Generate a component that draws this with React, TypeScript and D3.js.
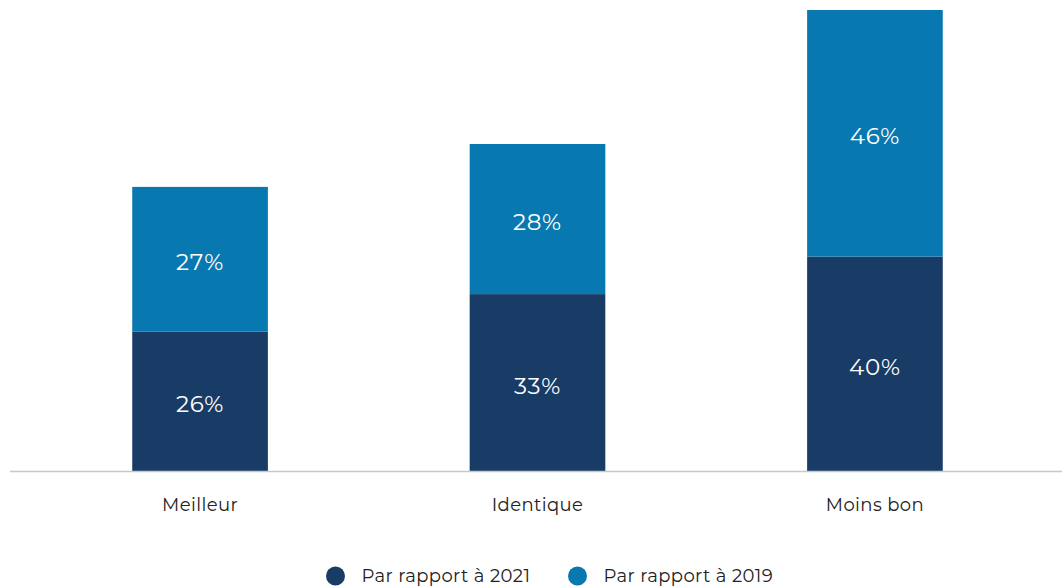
import React from "react";
import * as d3 from "d3";

const categories = ["Meilleur", "Identique", "Moins bon"];
const seriesNames = ["Par rapport à 2021", "Par rapport à 2019"];
const values2021 = [26, 33, 40];
const values2019 = [27, 28, 46];
const colors = ["#193c67", "#0779b0"];

const W = 1062;
const H = 588;

export default function App() {
  const x = d3.scaleBand<string>().domain(categories).range([31, 1044]).paddingInner(0.598).paddingOuter(0.3);
  const y = d3.scaleLinear().domain([0, 86]).range([471, 10]);
  const rows = categories.map((c, i) => ({ cat: c, a: values2021[i], b: values2019[i] }));
  const stack = d3.stack<any>().keys(["a", "b"])(rows as any);
  const font = "Montserrat, 'Open Sans', sans-serif";
  const legendX = [335.5, 577.5];
  return (
    <svg width={W} height={H} style={{ position: "absolute", left: 0, top: 0 }}>
      {stack.map((layer, li) =>
        layer.map((d, i) => {
          const x0 = x(categories[i])!;
          const y0 = y(d[1]);
          const y1 = y(d[0]);
          const v = d[1] - d[0];
          return (
            <g key={`${li}-${i}`}>
              <rect x={x0} y={y0} width={x.bandwidth()} height={y1 - y0} fill={colors[li]} />
              <text
                x={x0 + x.bandwidth() / 2}
                y={(y0 + y1) / 2 + 3}
                textAnchor="middle"
                dominantBaseline="central"
                fill="#fff"
                fontFamily={font}
                fontSize={23}
                letterSpacing={0.8}
              >
                {v}%
              </text>
            </g>
          );
        })
      )}
      <line x1={10} x2={1062} y1={471.5} y2={471.5} stroke="#c8c8c8" strokeWidth={1.5} />
      {categories.map((c) => (
        <text
          key={c}
          x={x(c)! + x.bandwidth() / 2}
          y={511}
          textAnchor="middle"
          fill="#222"
          fontFamily={font}
          fontSize={18}
          letterSpacing={0.4}
        >
          {c}
        </text>
      ))}
      {seriesNames.map((s, i) => {
        const cx = legendX[i];
        return (
          <g key={s}>
            <circle cx={cx} cy={576} r={9.5} fill={colors[i]} />
            <text x={cx + 26} y={582} fill="#222" fontFamily={font} fontSize={18} letterSpacing={0.4}>
              {s}
            </text>
          </g>
        );
      })}
    </svg>
  );
}
